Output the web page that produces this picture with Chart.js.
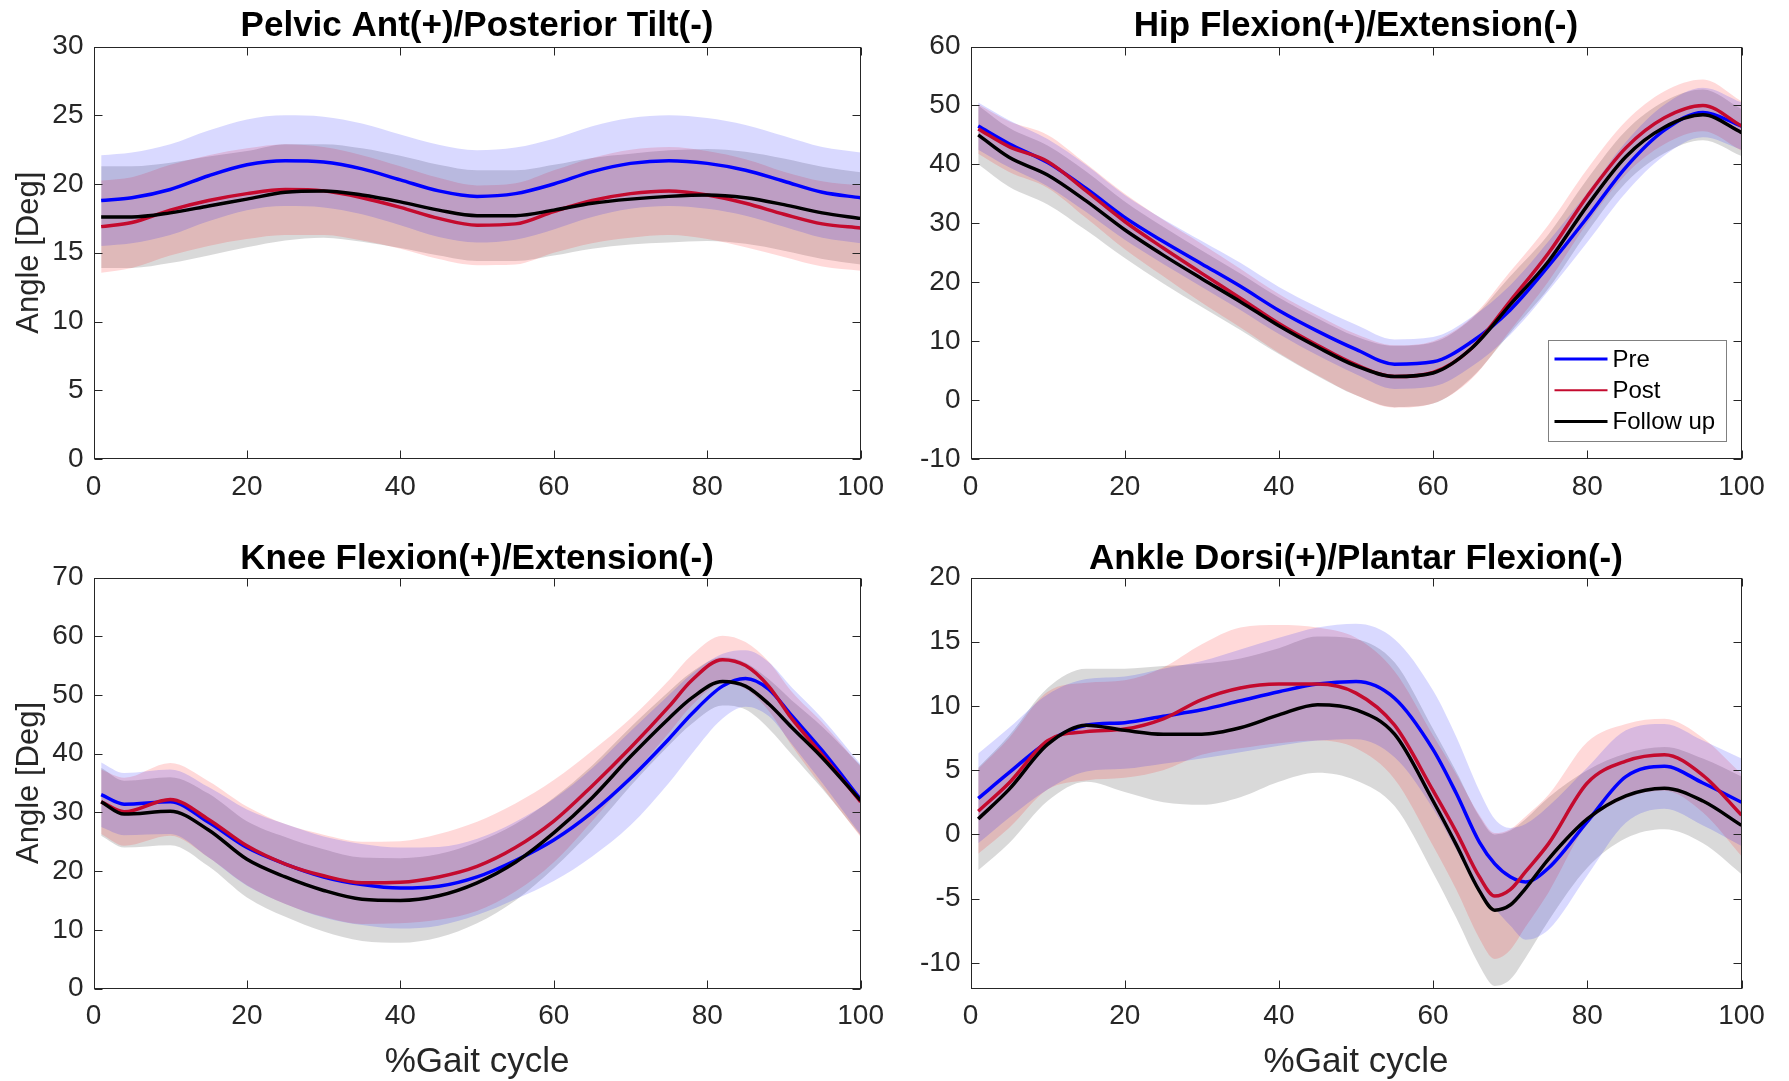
<!DOCTYPE html>
<html>
<head>
<meta charset="utf-8">
<script src="https://cdn.jsdelivr.net/npm/chart.js@4.4.1/dist/chart.umd.min.js"></script>
<style>
html,body{margin:0;padding:0;background:#fff;}
#wrap{position:relative;width:1789px;height:1081px;overflow:hidden;background:#fff;}
canvas{position:absolute;}
</style>
</head>
<body>
<div id="wrap">
  <canvas id="pelvis" width="895" height="530" style="left:0;top:0"></canvas>
  <canvas id="hip" width="894" height="530" style="left:895px;top:0"></canvas>
  <canvas id="knee" width="895" height="551" style="left:0;top:530px"></canvas>
  <canvas id="ankle" width="894" height="551" style="left:895px;top:530px"></canvas>
</div>
<script>
// % gait cycle sample points
const gaitPct=[1,5,10,15,20,25,30,35,40,45,50,55,60,65,70,75,80,85,90,95,100];
const kneePct=[1,4,10,15,20,25,30,35,40,45,50,55,60,65,70,75,78,82,85,88,91,95,100];
const anklePct=[1,5,10,15,20,25,30,35,40,45,50,55,60,63,66,68,70,72,75,80,85,90,95,100];
const xTicks=[0,20,40,60,80,100];

const pelvicTicks=[0,5,10,15,20,25,30];
const hipTicks=[-10,0,10,20,30,40,50,60];
const kneeTicks=[0,10,20,30,40,50,60,70];
const ankleTicks=[-10,-5,0,5,10,15,20];

const seriesNames=["Pre","Post","Follow up"];

// Pelvic tilt (mean / SD)
const pelvicPre=[18.8,19.0,19.6,20.6,21.4,21.7,21.6,21.1,20.3,19.5,19.1,19.3,20.0,20.9,21.5,21.7,21.5,21.0,20.2,19.4,19.0];
const pelvicPreSD=[3.3,3.3,3.3,3.3,3.3,3.3,3.3,3.3,3.3,3.35,3.35,3.35,3.3,3.3,3.3,3.3,3.3,3.3,3.3,3.3,3.3];
const pelvicPost=[16.9,17.2,18.1,18.8,19.3,19.6,19.5,19.0,18.3,17.5,17.0,17.1,18.0,18.8,19.3,19.5,19.2,18.6,17.8,17.1,16.8];
const pelvicPostSD=[3.35,3.3,3.3,3.3,3.3,3.3,3.2,3.1,3.0,2.95,2.9,2.95,3.0,3.1,3.2,3.2,3.2,3.2,3.1,3.1,3.1];
const pelvicFollow=[17.6,17.6,17.9,18.4,18.9,19.4,19.5,19.2,18.7,18.1,17.7,17.7,18.1,18.6,18.9,19.1,19.2,19.0,18.5,17.9,17.5];
const pelvicFollowSD=[3.7,3.7,3.65,3.6,3.5,3.5,3.4,3.4,3.35,3.3,3.3,3.3,3.3,3.3,3.3,3.35,3.35,3.35,3.35,3.35,3.35];

// Hip flexion
const hipPre=[46.5,43.5,40.3,35.9,31.0,26.9,23.1,19.3,15.2,11.7,8.6,6.1,6.5,9.9,15.3,22.8,31.0,39.5,45.8,48.8,46.5];
const hipPreSD=[4.0,4.0,4.0,4.0,3.8,3.8,3.9,4.0,4.0,4.1,4.2,4.2,4.2,4.2,4.2,4.2,4.2,4.3,4.3,4.2,4.0];
const hipPost=[46.0,43.0,40.5,35.5,30.3,25.8,21.5,17.3,13.0,9.3,6.0,4.0,4.7,8.8,16.8,25.0,34.6,42.8,47.9,50.0,46.5];
const hipPostSD=[4.2,4.3,4.5,4.6,4.7,4.8,5.0,5.0,5.0,5.1,5.2,5.3,5.3,5.2,5.0,4.8,4.6,4.5,4.5,4.4,4.2];
const hipFollow=[45.0,41.2,38.2,33.8,28.9,24.6,20.6,16.7,12.6,9.0,5.8,4.0,4.6,8.8,16.2,23.6,33.0,41.3,46.3,48.4,45.4];
const hipFollowSD=[5.0,5.0,5.0,5.0,4.8,4.8,4.8,4.8,4.8,4.9,5.0,5.2,5.2,5.0,4.8,4.6,4.5,4.4,4.4,4.3,4.0];

// Knee flexion (uses kneePct)
const kneePre=[33.0,31.4,31.8,28.3,24.0,21.2,19.0,17.7,17.1,17.4,19.0,21.8,25.3,30.0,35.8,42.5,46.8,51.5,52.8,51.0,46.5,40.5,32.2];
const kneePreSD=[5.5,5.3,5.5,6.0,6.5,6.8,6.9,6.9,6.9,6.7,6.5,6.6,7.0,7.5,8.0,7.5,6.8,5.5,4.8,4.6,4.8,5.5,6.0];
const kneePost=[31.8,30.1,32.2,28.8,24.3,21.2,19.2,18.0,18.1,19.0,20.8,24.0,28.5,34.5,41.0,48.0,52.5,56.0,55.0,51.5,46.0,39.8,31.8];
const kneePostSD=[5.5,5.8,6.2,6.5,6.7,6.8,7.0,7.0,7.0,7.3,7.6,7.5,7.0,6.0,5.0,4.5,4.3,4.1,4.0,4.2,4.6,5.5,6.0];
const kneeFollow=[31.8,29.7,30.2,27.0,22.0,19.0,16.7,15.2,15.0,15.8,18.0,21.5,26.5,32.5,39.5,46.0,49.5,52.3,51.5,48.5,44.5,39.3,32.0];
const kneeFollowSD=[5.8,5.7,5.8,6.2,6.5,6.8,7.0,7.1,7.2,7.1,6.9,6.5,6.0,5.5,5.0,4.6,4.4,4.1,4.0,4.2,4.6,5.3,6.0];

// Ankle dorsi/plantar flexion (uses anklePct)
const anklePre=[2.8,4.8,7.2,8.5,8.7,9.2,9.7,10.4,11.1,11.7,11.9,10.6,6.6,3.2,-0.6,-2.3,-3.3,-3.7,-2.6,1.0,4.5,5.3,4.0,2.5];
const anklePreSD=[3.5,3.5,3.7,3.6,3.6,3.7,3.8,4.0,4.2,4.4,4.5,4.6,4.6,4.4,4.0,3.5,3.8,4.5,4.8,4.2,3.6,3.3,3.3,3.4];
const anklePost=[1.8,4.0,7.3,8.0,8.2,9.0,10.5,11.4,11.7,11.7,11.0,8.5,3.4,0.2,-3.3,-4.8,-4.3,-2.9,-0.7,4.0,5.7,6.2,4.6,1.5];
const anklePostSD=[3.3,3.5,3.8,3.8,3.8,4.0,4.3,4.7,4.6,4.4,4.3,4.2,4.3,4.5,4.8,4.9,4.7,4.3,3.8,3.2,2.9,2.8,2.9,3.2];
const ankleFollow=[1.2,3.5,7.0,8.5,8.1,7.8,7.8,8.3,9.3,10.1,9.7,7.8,2.6,-0.8,-4.4,-5.9,-5.5,-4.2,-1.9,1.2,3.0,3.6,2.6,0.7];
const ankleFollowSD=[4.0,4.2,4.4,4.4,4.8,5.3,5.5,5.4,5.2,5.3,5.5,5.6,5.6,5.7,5.8,5.9,5.8,5.4,4.8,3.8,3.3,3.2,3.3,3.8];

const FONT="'Liberation Sans', Arial, Helvetica, sans-serif";
const AXIS="#262626";
const lineColors=["#0000ff","#c40a2e","#000000"];
const bandColors=["rgba(0,0,255,0.15)","rgba(255,0,0,0.15)","rgba(0,0,0,0.15)"];

function pts(xs,arr,sd,sign){
  return xs.map((x,i)=>({x:x,y:arr[i]+(sd?sign*sd[i]:0)}));
}

// box around the axes + inward tick marks (like matlab)
const frameTicks={
  id:"frameTicks",
  afterDatasetsDraw(chart){
    const {ctx,chartArea:a,scales}=chart;
    const x=scales.x,y=scales.y;
    const L=Math.round(a.left)+0.5,R=Math.round(a.right)-0.5,T=Math.round(a.top)+0.5,B=Math.round(a.bottom)-0.5;
    ctx.save();
    ctx.strokeStyle=AXIS;ctx.lineWidth=1;
    ctx.beginPath();
    x.ticks.forEach(t=>{
      let px=Math.round(x.getPixelForValue(t.value))+0.5;
      ctx.moveTo(px,B);ctx.lineTo(px,B-8);
      ctx.moveTo(px,T);ctx.lineTo(px,T+8);
    });
    y.ticks.forEach(t=>{
      let py=Math.round(y.getPixelForValue(t.value))+0.5;
      ctx.moveTo(L,py);ctx.lineTo(L+8,py);
      ctx.moveTo(R,py);ctx.lineTo(R-8,py);
    });
    ctx.stroke();
    ctx.strokeRect(L,T,R-L,B-T);
    ctx.restore();
  }
};

// legend drawn inside the hip axes, bottom right
const boxLegend={
  id:"boxLegend",
  afterDraw(chart){
    const {ctx,chartArea:a}=chart;
    const w=178,h=101;
    const left=Math.round(a.right-16-w)+0.5,top=Math.round(a.bottom-18-h)+0.5;
    ctx.save();
    ctx.fillStyle="#fff";ctx.fillRect(left,top,w,h);
    ctx.strokeStyle="#808080";ctx.lineWidth=1;ctx.strokeRect(left,top,w,h);
    ctx.font="24px "+FONT;ctx.textBaseline="middle";ctx.textAlign="left";
    chart.data.datasets.filter(d=>d.isMean).sort((p,q)=>p.idx-q.idx).forEach((d,i)=>{
      let yy=top+18.5+i*31.2;
      ctx.strokeStyle=d.borderColor;ctx.lineWidth=(d.idx===1)?2:3;
      ctx.beginPath();ctx.moveTo(left+6,yy);ctx.lineTo(left+59,yy);ctx.stroke();
      ctx.fillStyle="#000";
      ctx.fillText(d.label,left+64,yy+1);
    });
    ctx.restore();
  }
};

function makePanel(id,p){
  let datasets=[];
  p.series.forEach((s,k)=>{
    datasets.push({label:seriesNames[k]+" +SD",data:pts(p.xs,s[0],s[1],1),borderColor:"rgba(0,0,0,0)",borderWidth:1,
      pointRadius:0,backgroundColor:bandColors[k],fill:"+1",order:10+k});
    datasets.push({label:seriesNames[k]+" -SD",data:pts(p.xs,s[0],s[1],-1),borderColor:"rgba(0,0,0,0)",borderWidth:1,
      pointRadius:0,fill:false,order:10+k});
  });
  p.series.forEach((s,k)=>{
    datasets.push({label:seriesNames[k],data:pts(p.xs,s[0]),borderColor:lineColors[k],borderWidth:3.5,
      pointRadius:0,fill:false,order:3-k,isMean:true,idx:k});
  });

  new Chart(document.getElementById(id),{
    type:"line",
    data:{datasets:datasets},
    plugins:p.legend?[frameTicks,boxLegend]:[frameTicks],
    options:{
      responsive:false,animation:false,devicePixelRatio:1,
      layout:{padding:{left:0,right:p.padRight,top:0,bottom:0}},
      elements:{line:{cubicInterpolationMode:"monotone"}},
      plugins:{
        legend:{display:false},tooltip:{enabled:false},
        filler:{drawTime:"beforeDatasetsDraw"},
        title:{display:true,text:p.title,fullSize:false,color:"#000",
          font:{family:FONT,size:35,weight:"bold",lineHeight:1},
          padding:{top:p.titleTop,bottom:p.titleBottom}}
      },
      scales:{
        x:{type:"linear",min:0,max:100,
          afterBuildTicks:s=>{s.ticks=xTicks.map(v=>({value:v}));},
          afterFit:s=>{s.height=p.xHeight;},
          grid:{display:false,drawTicks:false},border:{display:false},
          ticks:{color:AXIS,padding:11,autoSkip:false,maxRotation:0,font:{family:FONT,size:28,lineHeight:1.2}},
          title:{display:!!p.xTitle,text:p.xTitle||"",color:AXIS,font:{family:FONT,size:35,lineHeight:1.2},padding:{top:0,bottom:-2}}
        },
        y:{type:"linear",min:p.yMin,max:p.yMax,
          afterBuildTicks:s=>{s.ticks=p.yTicks.map(v=>({value:v}));},
          afterFit:s=>{s.width=p.yWidth;},
          grid:{display:false,drawTicks:false},border:{display:false},
          ticks:{color:AXIS,padding:10,autoSkip:false,font:{family:FONT,size:28,lineHeight:1.2}},
          title:{display:!!p.yTitle,text:p.yTitle||"",color:AXIS,font:{family:FONT,size:31,lineHeight:1.2},padding:{top:11,bottom:0}}
        }
      }
    }
  });
}

makePanel("pelvis",{
  title:"Pelvic Ant(+)/Posterior Tilt(-)",xs:gaitPct,yMin:0,yMax:30,yTicks:pelvicTicks,
  series:[[pelvicPre,pelvicPreSD],[pelvicPost,pelvicPostSD],[pelvicFollow,pelvicFollowSD]],
  yTitle:"Angle [Deg]",yWidth:93.5,padRight:31.5,xHeight:71,titleTop:9,titleBottom:2.5
});
makePanel("hip",{
  title:"Hip Flexion(+)/Extension(-)",xs:gaitPct,yMin:-10,yMax:60,yTicks:hipTicks,
  series:[[hipPre,hipPreSD],[hipPost,hipPostSD],[hipFollow,hipFollowSD]],
  yWidth:75.5,padRight:47.5,xHeight:71,titleTop:9,titleBottom:2.5,legend:true
});
makePanel("knee",{
  title:"Knee Flexion(+)/Extension(-)",xs:kneePct,yMin:0,yMax:70,yTicks:kneeTicks,
  series:[[kneePre,kneePreSD],[kneePost,kneePostSD],[kneeFollow,kneeFollowSD]],
  yTitle:"Angle [Deg]",xTitle:"%Gait cycle",yWidth:93.5,padRight:31.5,xHeight:92.5,titleTop:11.5,titleBottom:1
});
makePanel("ankle",{
  title:"Ankle Dorsi(+)/Plantar Flexion(-)",xs:anklePct,yMin:-12,yMax:20,yTicks:ankleTicks,
  series:[[anklePre,anklePreSD],[anklePost,anklePostSD],[ankleFollow,ankleFollowSD]],
  xTitle:"%Gait cycle",yWidth:75.5,padRight:47.5,xHeight:92.5,titleTop:11.5,titleBottom:1
});
</script>
</body>
</html>
